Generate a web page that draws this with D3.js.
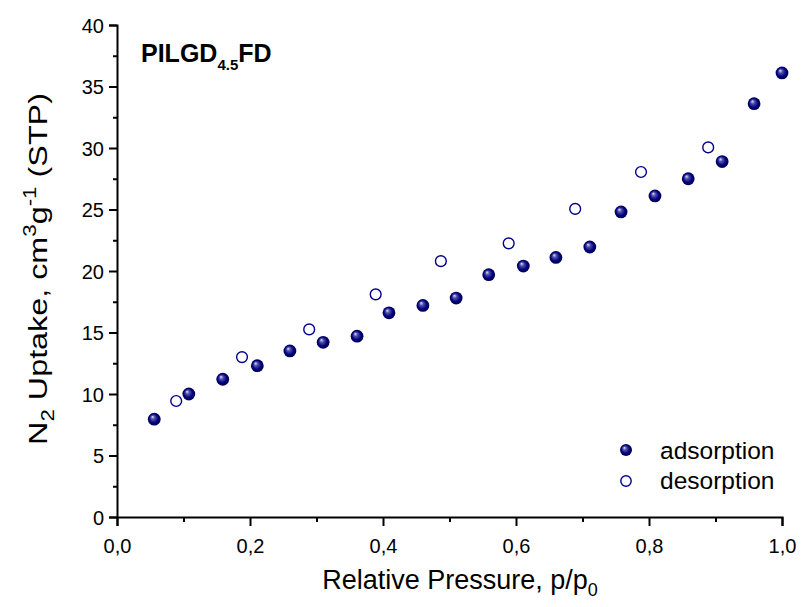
<!DOCTYPE html>
<html>
<head>
<meta charset="utf-8">
<script src="https://cdn.jsdelivr.net/npm/d3@7"></script>
<style>
  body { margin: 0; background: #fff; }
  text { font-family: "Liberation Sans", Arial, sans-serif; fill: #000; }
</style>
</head>
<body>
<svg width="801" height="607"></svg>
<script>
// Adsorption branch
const adsP = [0.056, 0.108, 0.159, 0.211, 0.260, 0.310, 0.361, 0.409, 0.460, 0.510,
  0.559, 0.611, 0.660, 0.711, 0.758, 0.809, 0.859, 0.910, 0.958, 1.0];
const adsV = [7.95, 10.0, 11.2, 12.3, 13.5, 14.2, 14.7, 16.6, 17.2, 17.8,
  19.7, 20.4, 21.1, 21.95, 24.8, 26.1, 27.5, 28.9, 33.6, 36.1];

// Desorption branch
const desP = [0.089, 0.188, 0.289, 0.389, 0.487, 0.589, 0.689, 0.788, 0.889];
const desV = [9.43, 13.0, 15.25, 18.1, 20.8, 22.25, 25.05, 28.05, 30.05];

const xTicks = [0, 0.2, 0.4, 0.6, 0.8, 1.0];
const yTicks = [0, 5, 10, 15, 20, 25, 30, 35, 40];

const svg = d3.select("svg");

const plotLeft = 117, plotRight = 782, plotTop = 25, plotBottom = 517;

const x = d3.scaleLinear().domain([0, 1]).range([plotLeft, plotRight]);
const y = d3.scaleLinear().domain([0, 40]).range([plotBottom, plotTop]);

const fmt = d => d3.format(".1f")(d).replace(".", ",");

// gradient for shiny spheres
const defs = svg.append("defs");
const grad = defs.append("radialGradient")
  .attr("id", "ball")
  .attr("cx", "50%").attr("cy", "50%").attr("r", "50%")
  .attr("fx", "35%").attr("fy", "30%");
grad.append("stop").attr("offset", "0%").attr("stop-color", "#e6e6f5");
grad.append("stop").attr("offset", "30%").attr("stop-color", "#5050b0");
grad.append("stop").attr("offset", "70%").attr("stop-color", "#00007a");
grad.append("stop").attr("offset", "100%").attr("stop-color", "#000050");

// x axis
const xAxis = svg.append("g")
  .attr("transform", `translate(0,${plotBottom})`)
  .call(d3.axisBottom(x).tickValues(xTicks).tickFormat(fmt).tickSizeOuter(0).tickSize(9).tickPadding(6));
svg.append("g")
  .attr("transform", `translate(0,${plotBottom})`)
  .call(d3.axisBottom(x).tickValues([0.1, 0.3, 0.5, 0.7, 0.9]).tickFormat("").tickSizeOuter(0).tickSize(5))
  .select(".domain").remove();

// y axis
const yAxis = svg.append("g")
  .attr("transform", `translate(${plotLeft},0)`)
  .call(d3.axisLeft(y).tickValues(yTicks).tickSizeOuter(0).tickSize(8).tickPadding(5));
svg.append("g")
  .attr("transform", `translate(${plotLeft},0)`)
  .call(d3.axisLeft(y).tickValues(d3.range(2.5, 40, 5)).tickFormat("").tickSizeOuter(0).tickSize(4))
  .select(".domain").remove();

svg.selectAll(".domain").attr("stroke", "#000").attr("stroke-width", 2);
svg.selectAll(".tick line").attr("stroke", "#000").attr("stroke-width", 2);
svg.selectAll(".tick text").style("font-size", "20px").style("font-family", "Liberation Sans, Arial, sans-serif");
xAxis.selectAll(".tick text").attr("y", 0).attr("dy", 0).attr("transform", "translate(0,36)");
yAxis.selectAll(".tick text").attr("dy", "0.36em");

// axis titles
const xt = svg.append("text")
  .attr("x", 460).attr("y", 589)
  .attr("text-anchor", "middle")
  .style("font-size", "27px");
xt.append("tspan").text("Relative Pressure, p/p");
xt.append("tspan").attr("dy", 7).style("font-size", "18px").text("0");

const yt = svg.append("text")
  .attr("text-anchor", "middle")
  .style("font-size", "26px");
yt.append("tspan").text("N");
yt.append("tspan").attr("dy", 7).style("font-size", "18px").text("2");
yt.append("tspan").attr("dy", -7).text(" Uptake, cm");
yt.append("tspan").attr("dy", -11).style("font-size", "18px").text("3");
yt.append("tspan").attr("dy", 11).text("g");
yt.append("tspan").attr("dy", -11).style("font-size", "18px").text("-1");
yt.append("tspan").attr("dy", 11).text(" (STP)");
// stretch along its own direction to the length of the reference title
const ytLen = yt.node().getComputedTextLength();
yt.attr("transform", `translate(47,269) rotate(-90) scale(${352 / ytLen},1)`);

// sample label
const title = svg.append("text")
  .attr("x", 141).attr("y", 62)
  .style("font-size", "25px").style("font-weight", "bold");
title.append("tspan").text("PILGD");
title.append("tspan").attr("dy", 8).style("font-size", "15px").text("4.5");
title.append("tspan").attr("dy", -8).text("FD");

// data points
const ads = adsP.map((p, i) => ({ p, v: adsV[i] }));
const des = desP.map((p, i) => ({ p, v: desV[i] }));

svg.selectAll(".des")
  .data(des)
  .enter()
  .append("circle")
  .classed("des", true)
  .attr("cx", d => x(d.p))
  .attr("cy", d => y(d.v))
  .attr("r", 5.4)
  .attr("fill", "#fff")
  .attr("stroke", "#00008b")
  .attr("stroke-width", 1.4);

svg.selectAll(".ads")
  .data(ads)
  .enter()
  .append("circle")
  .classed("ads", true)
  .attr("cx", d => x(d.p))
  .attr("cy", d => y(d.v))
  .attr("r", 6.4)
  .attr("fill", "url(#ball)");

// legend
const legend = svg.append("g");
legend.append("circle").attr("cx", 626).attr("cy", 450).attr("r", 6).attr("fill", "url(#ball)");
legend.append("circle").attr("cx", 626).attr("cy", 481).attr("r", 5.2)
  .attr("fill", "#fff").attr("stroke", "#00008b").attr("stroke-width", 1.4);
legend.append("text").attr("x", 660).attr("y", 459).style("font-size", "24.5px").text("adsorption");
legend.append("text").attr("x", 660).attr("y", 489).style("font-size", "24.5px").text("desorption");
</script>
</body>
</html>
